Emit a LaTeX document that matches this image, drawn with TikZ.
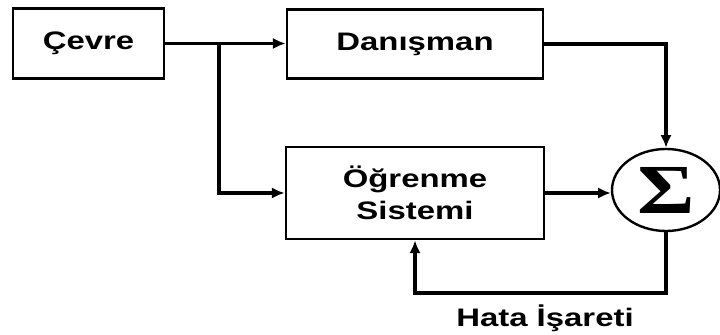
\documentclass[tikz,border=0pt]{standalone}
\usepackage{fontspec}
\setmainfont{Liberation Sans}[FakeStretch=1.3]
\newfontfamily\sigmafont{Liberation Serif}[FakeStretch=1.25]
\usetikzlibrary{shapes.geometric,arrows.meta}

\begin{document}
\begin{tikzpicture}[x=0.025cm,y=-0.025cm]
	\tikzset{every node/.style={font=\fontsize{18}{23}\selectfont\bfseries,align=center}}
	\tikzset{blok/.style={draw,line width=2pt,inner sep=0pt}}
	\tikzset{toplam/.style={draw,ellipse,line width=1.7pt,minimum width=2.7cm,minimum height=2.05cm,inner sep=0pt}}
	\tikzset{ok/.style={line width=2.2pt,-{Latex[length=9pt,width=8pt]}}}
	\useasboundingbox (0,0) rectangle (720,334);
	\node[blok,minimum width=3.775cm,minimum height=1.75cm] (cevre) at (88.5,43.5) {Çevre};
	\node[blok,minimum width=6.4cm,minimum height=1.725cm] (danisman) at (415,44) {Danışman};
	\node[blok,minimum width=6.45cm,minimum height=2.3cm] (ogrenme) at (415,193) {Öğrenme\\Sistemi};
	\node[toplam] (sigma) at (666,190) {\sigmafont\fontsize{50}{50}\selectfont\bfseries Σ};
	\node (hata) at (545,318) {Hata İşareti};
	\coordinate (kol) at (219,43.5);
	\coordinate (geri) at (666,293);
	\draw[ok] (cevre.east) -- (cevre.east -| danisman.west);
	\draw[ok] (kol) |- (ogrenme.west);
	\draw[ok] (danisman.east) -| (sigma.north);
	\draw[ok] (ogrenme.east) -- (ogrenme.east -| sigma.west);
	\draw[ok] (sigma.south) -- (geri) -| (ogrenme.south);
\end{tikzpicture}
\end{document}
